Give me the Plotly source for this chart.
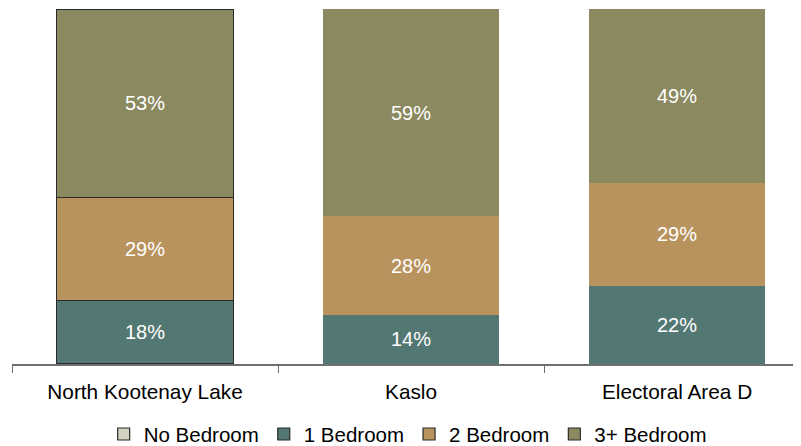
import plotly.graph_objects as go

categories = ["North Kootenay Lake", "Kaslo", "Electoral Area D"]
series_names = ["No Bedroom", "1 Bedroom", "2 Bedroom", "3+ Bedroom"]
no_bedroom = [0, 0, 0]
one_bedroom = [18, 14, 22]
two_bedroom = [29, 28, 29]
three_plus = [53, 59, 49]
colors = ["#d3d1bf", "#537873", "#b9935e", "#8b8960"]

FONT = "Liberation Sans"

fig = go.Figure()
for name, vals, col in zip(series_names, [no_bedroom, one_bedroom, two_bedroom, three_plus], colors):
    fig.add_trace(go.Bar(
        name=name, x=categories, y=vals,
        marker=dict(color=col, line=dict(color="#2a2a2a", width=[1.2, 0, 0])),
        text=[f"{v}%" if v > 0 else "" for v in vals],
        texttemplate="%{text}",
        textposition="inside", insidetextanchor="middle",
        textfont=dict(color="white", size=20, family=FONT),
        hoverinfo="skip",
    ))

fig.update_layout(
    barmode="stack", barnorm="percent", bargap=0.335,
    width=793, height=438,
    margin=dict(l=4, r=0, t=1, b=82),
    plot_bgcolor="white", paper_bgcolor="white",
    font=dict(family=FONT, color="black"),
    uniformtext=dict(mode="show", minsize=10),
    legend=dict(orientation="h", x=0.504, xanchor="center", xref="container",
                y=0.027, yanchor="middle", yref="container",
                font=dict(size=20.5, family=FONT), traceorder="normal",
                itemwidth=30),
    showlegend=True,
)
fig.update_xaxes(range=[-0.5, 2.466], showline=True, linecolor="#6f6f6f", linewidth=1.5,
                 ticks="outside", tickson="boundaries", ticklen=7, tickcolor="#6f6f6f",
                 ticklabelstandoff=8,
                 tickfont=dict(size=20.8, family=FONT, color="black"))
fig.update_yaxes(range=[0, 100], visible=False, showgrid=False)

fig.write_html("out.html")
